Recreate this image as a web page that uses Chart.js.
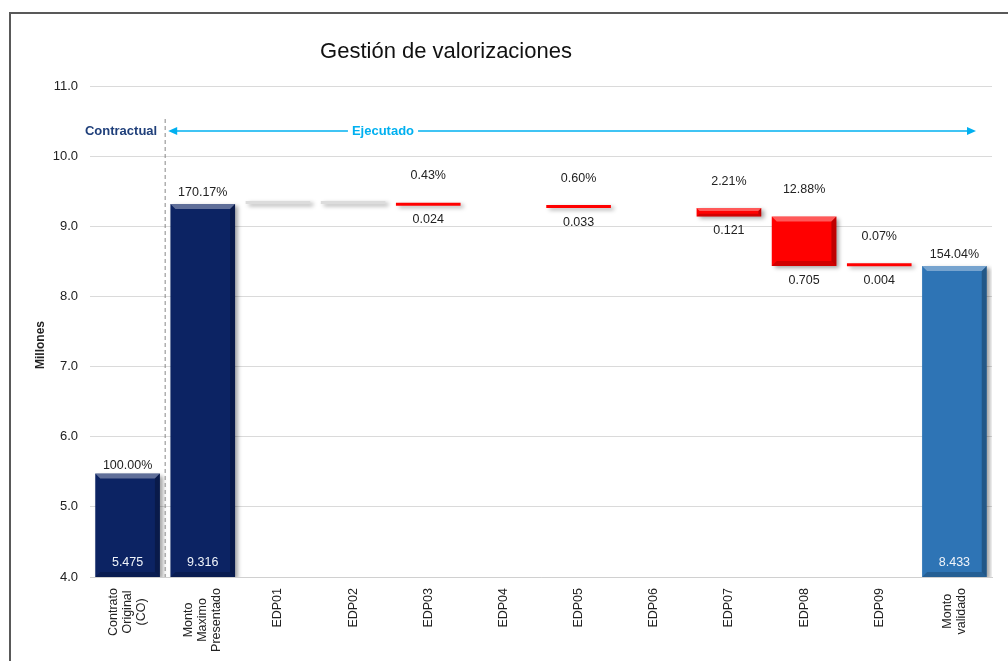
<!DOCTYPE html>
<html>
<head>
<meta charset="utf-8">
<script src="https://cdn.jsdelivr.net/npm/chart.js@4"></script>
<style>
  html, body { margin: 0; padding: 0; background: #fff; }
  #wrap { width: 1008px; height: 661px; }
</style>
</head>
<body>
<div id="wrap"><canvas id="my-chart" width="1008" height="661"></canvas></div>
<script>
const categories = [
  ['Contrato', 'Original', '(CO)'],
  ['Monto', 'Maximo', 'Presentado'],
  'EDP01', 'EDP02', 'EDP03', 'EDP04', 'EDP05', 'EDP06', 'EDP07', 'EDP08', 'EDP09',
  ['Monto', 'validado'],
];
const contractValue = 5.475;
const maxValue = 9.316;
const finalValue = 8.433;
// decrements per EDP (null = no bar)
const edpDeltas = [0, 0, 0.024, null, 0.033, null, 0.121, 0.705, 0.004];
const percentLabels = ['100.00%', '170.17%', '', '', '0.43%', '', '0.60%', '', '2.21%', '12.88%', '0.07%', '154.04%'];
const yTicks = [4, 5, 6, 7, 8, 9, 10, 11];

// floating bars built from the running level
let level = maxValue;
const barData = [[4, contractValue], [4, maxValue]];
edpDeltas.forEach(d => {
  if (d === null) { barData.push(null); return; }
  barData.push([level - d, level]);
  level -= d;
});
barData.push([4, finalValue]);

const barColors = barData.map((v, i) => {
  if (i < 2) return '#0c2363';
  if (i === barData.length - 1) return '#2e74b5';
  return edpDeltas[i - 2] === 0 ? '#dcdcdc' : '#ff0000';
});

const bevel = {
  id: 'bevel',
  beforeDatasetsDraw: (chart) => {
    const ctx = chart.ctx;
    ctx.save();
    ctx.shadowColor = 'rgba(0,0,0,0.35)';
    ctx.shadowOffsetX = 3;
    ctx.shadowOffsetY = 2;
    ctx.shadowBlur = 4;
  },
  afterDatasetsDraw: (chart) => {
    const ctx = chart.ctx;
    ctx.restore();
    const meta = chart.getDatasetMeta(0);
    ctx.save();
    meta.data.forEach((bar, i) => {
      if (barData[i] === null) return;
      const l = bar.x - bar.width / 2, r = bar.x + bar.width / 2;
      const top = Math.min(bar.y, bar.base), bot = Math.max(bar.y, bar.base);
      const h = bot - top;
      if (h < 4) return;
      const e = Math.min(5, h / 3);
      // top highlight
      ctx.fillStyle = 'rgba(255,255,255,0.35)';
      ctx.beginPath();
      ctx.moveTo(l, top); ctx.lineTo(r, top); ctx.lineTo(r - e, top + e); ctx.lineTo(l + e, top + e);
      ctx.closePath(); ctx.fill();
      // right / bottom darker edges
      ctx.fillStyle = 'rgba(0,0,0,0.25)';
      ctx.beginPath();
      ctx.moveTo(r, top); ctx.lineTo(r, bot); ctx.lineTo(r - e, bot - e); ctx.lineTo(r - e, top + e);
      ctx.closePath(); ctx.fill();
      ctx.fillStyle = 'rgba(0,0,0,0.18)';
      ctx.beginPath();
      ctx.moveTo(l, bot); ctx.lineTo(r, bot); ctx.lineTo(r - e, bot - e); ctx.lineTo(l + e, bot - e);
      ctx.closePath(); ctx.fill();
    });
    ctx.restore();
  }
};

const annotations = {
  id: 'annotations',
  beforeDraw: (chart) => {
    const ctx = chart.ctx;
    ctx.save();
    ctx.strokeStyle = '#595959';
    ctx.lineWidth = 2;
    ctx.beginPath();
    ctx.moveTo(1008, 13); ctx.lineTo(10, 13); ctx.lineTo(10, 661);
    ctx.stroke();
    ctx.restore();
  },
  afterDraw: (chart) => {
    const ctx = chart.ctx;
    const area = chart.chartArea;
    const x = chart.scales.x;
    const meta = chart.getDatasetMeta(0);
    ctx.save();
    // title
    ctx.fillStyle = '#111';
    ctx.font = '22px "Liberation Sans", Arial';
    ctx.textAlign = 'center';
    ctx.textBaseline = 'middle';
    ctx.fillText('Gestión de valorizaciones', 446, 52);
    // y axis title
    ctx.save();
    ctx.translate(41, 345);
    ctx.rotate(-Math.PI / 2);
    ctx.font = 'bold 12px "Liberation Sans", Arial';
    ctx.fillStyle = '#222';
    ctx.fillText('Millones', 0, 0);
    ctx.restore();
    // category labels, rotated, lines centred on the longest one
    ctx.font = '12.5px "Liberation Sans", Arial';
    ctx.fillStyle = '#222';
    categories.forEach((lab, i) => {
      const lines = Array.isArray(lab) ? lab : [lab];
      const maxW = Math.max(...lines.map(s => ctx.measureText(s).width));
      const cx = x.getPixelForValue(i);
      const cy = area.bottom + 11 + maxW / 2;
      lines.forEach((s, k) => {
        ctx.save();
        ctx.translate(cx + (k - (lines.length - 1) / 2) * 14, cy);
        ctx.rotate(-Math.PI / 2);
        ctx.fillText(s, 0, 0);
        ctx.restore();
      });
    });
    // separator
    const sepX = (x.getPixelForValue(0) + x.getPixelForValue(1)) / 2;
    ctx.strokeStyle = '#888';
    ctx.lineWidth = 1;
    ctx.setLineDash([4, 3]);
    ctx.beginPath();
    ctx.moveTo(sepX, 119); ctx.lineTo(sepX, area.bottom);
    ctx.stroke();
    ctx.setLineDash([]);
    // arrow
    const ay = 131, ax1 = sepX + 3, ax2 = area.right - 16;
    ctx.strokeStyle = '#00b0f0';
    ctx.fillStyle = '#00b0f0';
    ctx.lineWidth = 1.5;
    ctx.beginPath(); ctx.moveTo(ax1 + 6, ay); ctx.lineTo(ax2 - 6, ay); ctx.stroke();
    ctx.beginPath(); ctx.moveTo(ax1, ay); ctx.lineTo(ax1 + 9, ay - 4); ctx.lineTo(ax1 + 9, ay + 4); ctx.closePath(); ctx.fill();
    ctx.beginPath(); ctx.moveTo(ax2, ay); ctx.lineTo(ax2 - 9, ay - 4); ctx.lineTo(ax2 - 9, ay + 4); ctx.closePath(); ctx.fill();
    ctx.font = 'bold 13px "Liberation Sans", Arial';
    const ew = ctx.measureText('Ejecutado').width;
    ctx.fillStyle = '#fff';
    ctx.fillRect(383 - ew / 2 - 4, ay - 8, ew + 8, 16);
    ctx.fillStyle = '#00b0f0';
    ctx.textAlign = 'center';
    ctx.fillText('Ejecutado', 383, ay);
    ctx.fillStyle = '#1f3f7a';
    ctx.textAlign = 'right';
    ctx.fillText('Contractual', sepX - 8, ay);
    // data labels
    ctx.font = '12.5px "Liberation Sans", Arial';
    ctx.textAlign = 'center';
    meta.data.forEach((bar, i) => {
      const v = barData[i];
      if (v === null) return;
      const top = Math.min(bar.y, bar.base), bot = Math.max(bar.y, bar.base);
      const isTotal = i < 2 || i === barData.length - 1;
      if (isTotal) {
        ctx.fillStyle = '#222';
        ctx.fillText(percentLabels[i], bar.x, top - (i === 0 ? 8 : 12));
        ctx.fillStyle = '#f0f4fa';
        ctx.fillText(v[1].toFixed(3), bar.x, bot - 14);
      } else if (edpDeltas[i - 2] > 0) {
        ctx.fillStyle = '#222';
        ctx.fillText(percentLabels[i], bar.x, top - 27);
        ctx.fillText(edpDeltas[i - 2].toFixed(3), bar.x, bot + 14);
      }
    });
    ctx.restore();
  }
};

const config = {
  type: 'bar',
  data: {
    labels: categories,
    datasets: [{
      data: barData,
      backgroundColor: barColors,
      borderWidth: 0,
      barPercentage: 0.86,
      categoryPercentage: 1,
      minBarLength: 3,
    }]
  },
  options: {
    responsive: false,
    animation: false,
    layout: { padding: { top: 86, left: 0, right: 16, bottom: 0 } },
    plugins: {
      legend: { display: false },
      tooltip: { enabled: false },
      title: { display: false },
    },
    scales: {
      x: {
        grid: { display: false },
        border: { color: '#d0d0d0' },
        afterFit: (scale) => { scale.height = 84; },
        ticks: { display: false },
      },
      y: {
        min: 4,
        max: 11,
        afterFit: (scale) => { scale.width = 90; },
        afterBuildTicks: (scale) => { scale.ticks = yTicks.map(v => ({ value: v })); },
        border: { display: false },
        grid: { color: '#dadada', drawTicks: false },
        ticks: {
          color: '#222',
          padding: 12,
          font: { family: '"Liberation Sans", Arial', size: 13 },
          callback: (v) => v.toFixed(1),
        },
      },
    },
  },
  plugins: [bevel, annotations],
};

new Chart(document.getElementById('my-chart'), config);
</script>
</body>
</html>
